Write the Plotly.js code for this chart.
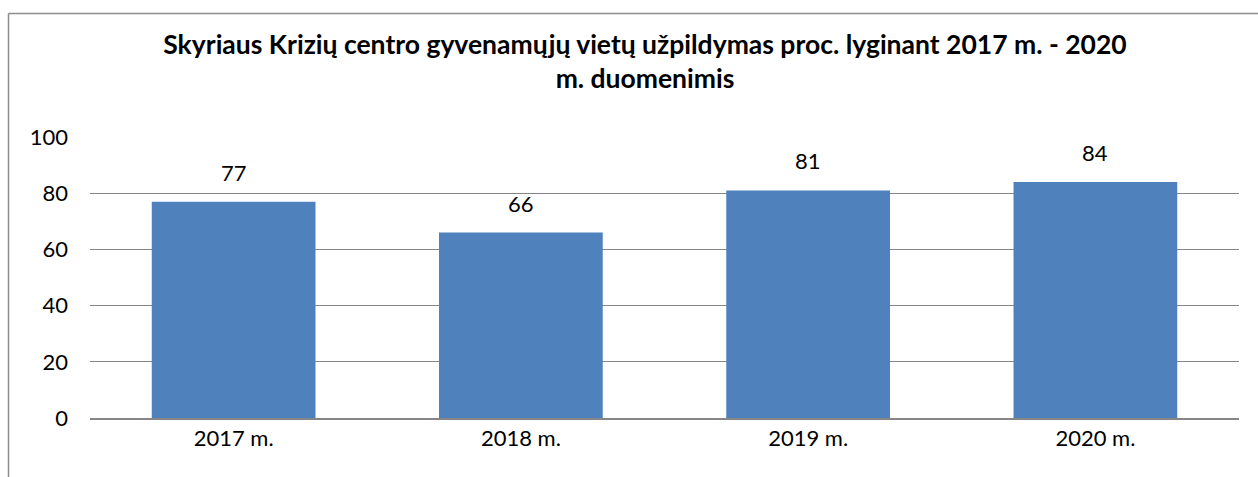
<!DOCTYPE html>
<html>
<head>
<meta charset="utf-8">
<script src="https://cdn.plot.ly/plotly-3.0.1.min.js"></script>
<style>html,body{margin:0;padding:0;background:#fff;}#chart{width:1258px;height:477px;}</style>
</head>
<body>
<div id="chart"></div>
<script>
const categories = ["2017 m.", "2018 m.", "2019 m.", "2020 m."];
const values = [77, 66, 81, 84];
const yTicks = [0, 20, 40, 60, 80, 100];
const titleText = "Skyriaus Krizių centro gyvenamųjų vietų užpildymas proc. lyginant 2017 m. - 2020<br>m. duomenimis";

const FONT = "Lato, 'Open Sans', sans-serif";
const L = 90, R = 19, T = 137, B = 59, W = 1258, H = 477;
const pw = W - L - R, ph = H - T - B;
const px = v => (v - L) / pw;
const py = v => (H - B - v) / ph;

const trace = {
  type: "bar",
  x: categories,
  y: values,
  marker: {color: "#4F81BD"},
  hoverinfo: "x+y"
};

const annotations = categories.map((c, i) => ({
  x: c, y: values[i], xref: "x", yref: "y",
  text: String(values[i]), showarrow: false,
  yanchor: "bottom", yshift: 14,
  font: {family: FONT, size: 22, color: "#000"}
}));

const borderColor = "#8c8c8c";
const shapes = [
  {type: "line", xref: "paper", yref: "paper", x0: px(8.5), x1: px(8.5), y0: py(H), y1: py(13.5), line: {color: borderColor, width: 1.5}},
  {type: "line", xref: "paper", yref: "paper", x0: px(8.5), x1: px(W), y0: py(13.5), y1: py(13.5), line: {color: borderColor, width: 1.5}}
];

const layout = {
  width: W, height: H,
  margin: {l: L, r: R, t: T, b: B, pad: 0},
  paper_bgcolor: "#fff", plot_bgcolor: "#fff",
  font: {family: FONT, size: 22, color: "#000"},
  title: {
    text: titleText,
    font: {family: FONT, size: 26.5, color: "#000", weight: "bold"},
    x: 645 / W, xref: "container", xanchor: "center",
    y: 1 - 54 / H, yref: "container", yanchor: "top"
  },
  bargap: 0.43,
  showlegend: false,
  xaxis: {
    type: "category",
    showgrid: false,
    showline: true, linecolor: "#868686", linewidth: 1.6,
    ticks: "",
    tickfont: {family: FONT, size: 22, color: "#000"},
    fixedrange: true
  },
  yaxis: {
    range: [0, 100],
    tickvals: yTicks,
    ticktext: yTicks.map(String),
    showgrid: true, gridcolor: "#868686", gridwidth: 1,
    zeroline: false, showline: false,
    ticks: "",
    ticklabelstandoff: 21,
    tickfont: {family: FONT, size: 22, color: "#000"},
    fixedrange: true
  },
  annotations: annotations,
  shapes: shapes
};

Plotly.newPlot("chart", [trace], layout, {displayModeBar: false, staticPlot: true});
</script>
</body>
</html>
